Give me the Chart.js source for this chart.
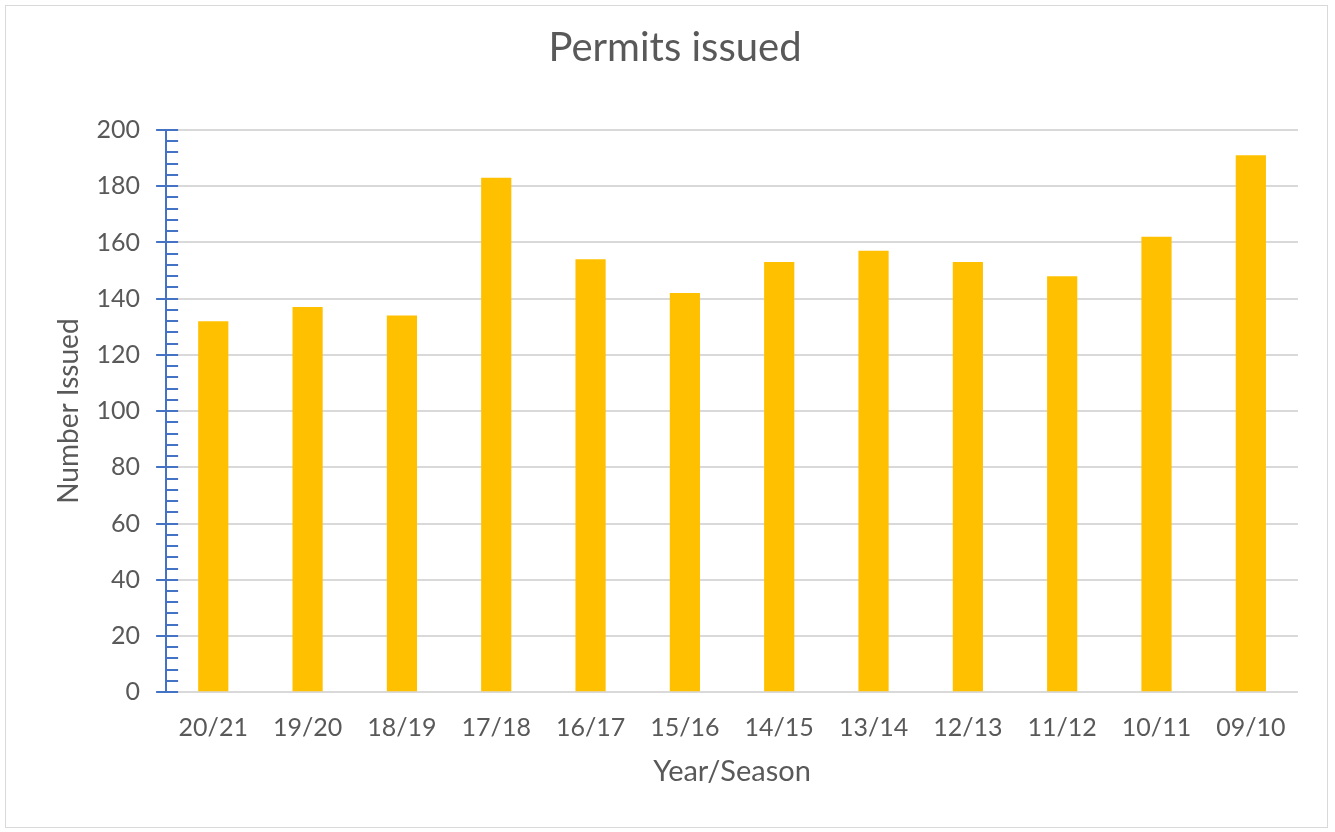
<!DOCTYPE html>
<html>
<head>
<meta charset="utf-8">
<script src="https://cdn.jsdelivr.net/npm/chart.js@4"></script>
<style>
  html, body { margin: 0; padding: 0; background: #fff; }
  #wrap { position: absolute; left: 5px; top: 5px; width: 1323px; height: 823px; border: 1px solid #d9d9d9; box-sizing: border-box; }
  #c { position: absolute; left: 0; top: 0; }
</style>
</head>
<body>
<div id="wrap"></div>
<canvas id="c" width="1335" height="832"></canvas>
<script>
// data
const seasons = ['20/21', '19/20', '18/19', '17/18', '16/17', '15/16', '14/15', '13/14', '12/13', '11/12', '10/11', '09/10'];
const permits = [132, 137, 134, 183, 154, 142, 153, 157, 153, 148, 162, 191];
const yTicks = [0, 20, 40, 60, 80, 100, 120, 140, 160, 180, 200];

const FONT = 'Lato, "Open Sans", sans-serif';
const GREY = '#595959';
const BLUE = '#4472C4';

// blue axis ticks: majors cross the line, minors stick out to the right
const axisTicks = {
  id: 'axisTicks',
  afterDraw(chart) {
    const y = chart.scales.y;
    const x0 = y.right;
    const ctx = chart.ctx;
    ctx.save();
    ctx.strokeStyle = BLUE;
    ctx.lineWidth = 2;
    ctx.beginPath();
    for (let v = y.min; v <= y.max; v += 4) {
      const py = Math.round(y.getPixelForValue(v));
      const major = yTicks.includes(v);
      ctx.moveTo(major ? x0 - 10 : x0, py);
      ctx.lineTo(x0 + 12, py);
    }
    ctx.stroke();
    ctx.restore();
  }
};

new Chart(document.getElementById('c'), {
  type: 'bar',
  data: {
    labels: seasons,
    datasets: [{
      label: 'Permits issued',
      data: permits,
      backgroundColor: '#FFC000',
      barPercentage: 0.32,
      categoryPercentage: 1
    }]
  },
  options: {
    responsive: false,
    animation: false,
    layout: { padding: { left: 52, right: 37, top: 24, bottom: 43 } },
    plugins: {
      legend: { display: false },
      tooltip: { enabled: false },
      title: {
        display: true,
        text: 'Permits issued',
        color: GREY,
        font: { family: FONT, size: 40, weight: 'normal' },
        padding: { top: 0, bottom: 58 }
      }
    },
    scales: {
      x: {
        grid: { display: false, drawTicks: false },
        border: { display: false },
        ticks: { color: GREY, font: { family: FONT, size: 25 }, padding: 21, maxRotation: 0 },
        title: { display: true, text: 'Year/Season', color: GREY, font: { family: FONT, size: 29 }, padding: { top: -10, bottom: 0 } }
      },
      y: {
        min: 0,
        max: 200,
        afterBuildTicks(scale) { scale.ticks = yTicks.map(v => ({ value: v })); },
        grid: { color: '#d9d9d9', lineWidth: 2, drawTicks: false },
        border: { display: true, color: BLUE, width: 2 },
        ticks: { color: GREY, font: { family: FONT, size: 25 }, padding: 26 },
        title: { display: true, text: 'Number Issued', color: GREY, font: { family: FONT, size: 28 }, padding: { top: 0, bottom: -15 } }
      }
    }
  },
  plugins: [axisTicks]
});
</script>
</body>
</html>
